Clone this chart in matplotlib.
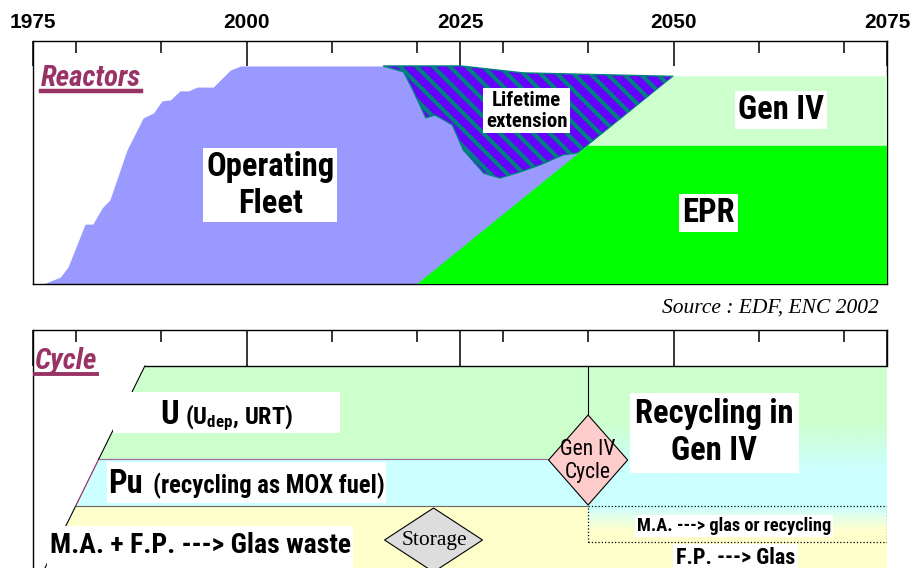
import numpy as np
import matplotlib
matplotlib.use("Agg")
import matplotlib.pyplot as plt
from matplotlib import font_manager
from matplotlib.colors import LinearSegmentedColormap
from matplotlib.lines import Line2D
from matplotlib.patches import Rectangle
from matplotlib.transforms import IdentityTransform

# ---------------- data ----------------
years_major = [1975, 2000, 2025, 2050, 2075]
years_minor = [1980, 1990, 2010, 2020, 2030, 2040, 2060, 2070]

# operating fleet (GWe)
fleet_years = [1976.2, 1978.2, 1979.1, 1981.1, 1982.0, 1983.1, 1984.0, 1986.0,
               1987.9, 1989.1, 1990.1, 1991.1, 1992.2, 1993.2, 1994.2, 1996.1,
               1998.1, 1999.3, 2016.0, 2018.4, 2019.5, 2021.0, 2022.1, 2024.1,
               2025.4, 2027.8, 2029.7, 2032.1, 2034.4, 2037.1, 2038.8]
fleet_gw = [0, 2, 4.9, 17.3, 17.3, 22, 24.3, 38.7,
            48, 49.4, 52.9, 53.2, 55.8, 55.8, 56.9, 56.9,
            61.8, 63, 63, 61.3, 56, 48, 48.8, 46,
            38.7, 32, 30.6, 32.4, 34.4, 37.3, 37.9]

# lifetime extension upper edge
ext_top_years = [2016.0, 2025.1, 2032.4, 2050.0]
ext_top_gw = [63, 63, 61, 60]

# new build ramp (EPR then Gen IV)
ramp_years = [2020, 2040, 2050]
ramp_gw = [0, 40, 60]
end_year = 2075

# fuel cycle bands (levels from bottom of picture)
band_levels = [0, 62, 109, 202]          # glas / Pu / U boundaries
band_left = [1976.4, 1980.0, 1982.7, 1988.1]
ma_level = 26
gen4_year = 2040

# ---------------- fonts ----------------
def has_bold(name):
    for f in font_manager.fontManager.ttflist:
        try:
            w = int(f.weight)
        except (TypeError, ValueError):
            w = 700 if "bold" in str(f.weight) else 400
        if f.name == name and w >= 700 and f.style == "normal":
            return True
    return False

NARROW, K = "Liberation Sans", 0.88
for cand in ["Nimbus Sans Narrow", "Liberation Sans Narrow", "Roboto Condensed",
             "PT Sans Narrow", "Pragati Narrow", "IBM Plex Sans Condensed",
             "Fira Sans Condensed", "Encode Sans Condensed"]:
    if has_bold(cand):
        NARROW, K = cand, 1.0
        break
SANS = "Liberation Sans"
SERIF = "Liberation Serif"
MAROON = "#993366"

plt.rcParams["hatch.linewidth"] = 3.0
plt.rcParams["mathtext.fontset"] = "custom"
plt.rcParams["mathtext.bf"] = NARROW + ":bold"
plt.rcParams["mathtext.rm"] = NARROW + ":bold"
plt.rcParams["mathtext.default"] = "bf"

fig = plt.figure(figsize=(9.12, 5.68), dpi=100)

W, H = 912, 568
ax1 = fig.add_axes([33 / W, 1 - 284 / H, 854 / W, (284 - 40.7) / H])
ax1.set_xlim(1975, 2075)
ax1.set_ylim(0, 70.3)

# operating fleet
ax1.fill_between(fleet_years, fleet_gw, color="#9999FF", lw=0, zorder=1)

# lifetime extension (hatched)
i0 = fleet_years.index(2016.0)
ext_x = ext_top_years + fleet_years[i0:][::-1]
ext_y = ext_top_gw + fleet_gw[i0:][::-1]
ax1.fill(ext_x, ext_y, facecolor="#6600FF", edgecolor="#008080",
         hatch="\\\\", lw=1, zorder=2)

# EPR and Gen IV
ax1.fill([ramp_years[0], ramp_years[1], end_year, end_year],
         [ramp_gw[0], ramp_gw[1], ramp_gw[1], ramp_gw[0]],
         color="#00FF00", lw=0, zorder=3)
ax1.fill([ramp_years[1], ramp_years[2], end_year, end_year],
         [ramp_gw[1], ramp_gw[2], ramp_gw[2], ramp_gw[1]],
         color="#CCFFCC", lw=0, zorder=3)

box = dict(facecolor="white", edgecolor="none", pad=2)
ax1.text(2002.8, 28.6, "Operating\nFleet", family=NARROW, fontsize=23.5 * K,
         fontweight="bold", ha="center", va="center", bbox=box, zorder=6)
ax1.text(2032.8, 50.0, "Lifetime\nextension", family=NARROW, fontsize=15 * K,
         fontweight="bold", ha="center", va="center", bbox=box, zorder=6,
         linespacing=1.1)
ax1.text(2062.6, 50.3, "Gen IV", family=NARROW, fontsize=23.5 * K,
         fontweight="bold", ha="center", va="center", bbox=box, zorder=6)
ax1.text(2054.1, 20.5, "EPR", family=NARROW, fontsize=23.5 * K,
         fontweight="bold", ha="center", va="center", bbox=box, zorder=6)
t_reac = ax1.text(1975.9, 59.5, "Reactors", family=NARROW, fontsize=21 * K,
                  fontweight="bold", style="italic", color=MAROON,
                  ha="left", va="center", zorder=6)

ax1.set_yticks([])
ax1.set_xticks(years_major)
ax1.set_xticklabels([str(y) for y in years_major], family=SANS,
                    fontsize=15, fontweight="bold")
ax1.set_xticks(years_minor, minor=True)
ax1.xaxis.set_ticks_position("top")
ax1.tick_params(axis="x", which="major", direction="in", length=18, width=1.1,
                top=True, bottom=False, labeltop=True, labelbottom=False, pad=6)
ax1.tick_params(axis="x", which="minor", direction="in", length=8.6, width=1.1,
                top=True, bottom=False)
for s in ax1.spines.values():
    s.set_linewidth(1.0)

fig.text(879 / W, 1 - 308 / H, "Source : EDF, ENC 2002", family=SERIF,
         style="italic", fontsize=15.5, ha="right", va="center")

# ---------------- fuel cycle panel ----------------
ax2 = fig.add_axes([33 / W, 0, 854 / W, 1 - 330 / H])

# bands
ax2.fill([band_left[0], band_left[1], end_year, end_year],
         [band_levels[0], band_levels[1], band_levels[1], band_levels[0]],
         color="#FFFFCC", lw=0, zorder=1)
ax2.fill([band_left[1], band_left[2], gen4_year, gen4_year],
         [band_levels[1], band_levels[2], band_levels[2], band_levels[1]],
         color="#CCFFFF", lw=0, zorder=1)
ax2.fill([band_left[2], band_left[3], gen4_year, gen4_year],
         [band_levels[2], band_levels[3], band_levels[3], band_levels[2]],
         color="#CCFFCC", lw=0, zorder=1)

# gen IV recycling zone: green -> cyan gradient
cm1 = LinearSegmentedColormap.from_list(
    "g2c", [(0, "#CCFFFF"), (0.25, "#CCFFFF"), (0.6, "#CCFFCC"), (1, "#CCFFCC")])
grad = np.linspace(0, 1, 200).reshape(-1, 1)
ax2.imshow(grad, cmap=cm1, origin="lower", aspect="auto", zorder=1,
           extent=[gen4_year, end_year, band_levels[1], band_levels[3]])
cm2 = LinearSegmentedColormap.from_list(
    "y2c", [(0, "#FFFFCC"), (0.3, "#FFFFCC"), (1, "#CCFFFF")])
ax2.imshow(grad, cmap=cm2, origin="lower", aspect="auto", zorder=1,
           extent=[gen4_year, end_year, ma_level, band_levels[1]])
ax2.add_patch(Rectangle((gen4_year, ma_level), end_year - gen4_year,
                        band_levels[1] - ma_level, fill=False, ls=":",
                        lw=0.9, ec="black", zorder=2))

# outlines
ax2.plot([band_left[0], band_left[1]], band_levels[0:2], color="black", lw=0.8, zorder=2)
ax2.plot([band_left[1], band_left[2]], band_levels[1:3], color=MAROON, lw=0.9, zorder=2)
ax2.plot([band_left[2], band_left[3]], band_levels[2:4], color="black", lw=0.8, zorder=2)
ax2.plot([band_left[3], end_year], [band_levels[3]] * 2, color="black", lw=1.0, zorder=2)
ax2.plot([band_left[2], gen4_year], [band_levels[2]] * 2, color="#996699", lw=0.8, zorder=2)
ax2.plot([band_left[1], gen4_year], [band_levels[1]] * 2, color="#666666", lw=0.8, zorder=2)

# diamonds
cx, cy, hw, hh = gen4_year, 108, 4.63, 45
ax2.plot([cx, cx], [band_levels[3], cy + hh], color="black", lw=0.8, zorder=2)
ax2.fill([cx, cx + hw, cx, cx - hw], [cy + hh, cy, cy - hh, cy],
         facecolor="#FFCCCC", edgecolor="black", lw=0.8, zorder=3)
ax2.text(cx, cy - 1, "Gen IV\nCycle", family=NARROW, fontsize=15.5 * K,
         ha="center", va="center", zorder=6, linespacing=1.15)

sx, sy, shw, shh = 2021.9, 28, 5.74, 32
ax2.fill([sx, sx + shw, sx, sx - shw], [sy + shh, sy, sy - shh, sy],
         facecolor="#DDDDDD", edgecolor="black", lw=0.8, zorder=3)
ax2.text(sx + 0.1, sy - 1, "Storage", family=SERIF, fontsize=15.5,
         ha="center", va="center", zorder=6)

# white label boxes on the left
ax2.add_patch(Rectangle((1984.4, 135), 26.6, 41, fc="white", ec="none", zorder=4))
ax2.add_patch(Rectangle((1983.7, 65), 32.6, 41, fc="white", ec="none", zorder=4))
ax2.add_patch(Rectangle((1976.6, -5), 35.9, 47, fc="white", ec="none", zorder=4))

ax2.text(1989.9, 143.7, "U", family=NARROW, fontsize=23.5 * K,
         fontweight="bold", ha="left", va="baseline", zorder=6)
ax2.text(1992.8, 143.7, "(U$_{dep}$, URT)", family=NARROW, fontsize=17.5 * K,
         fontweight="bold", ha="left", va="baseline", zorder=6)
ax2.text(1983.8, 75, "Pu", family=NARROW, fontsize=23.5 * K,
         fontweight="bold", ha="left", va="baseline", zorder=6)
ax2.text(1989.0, 75, "(recycling as MOX fuel)", family=NARROW, fontsize=17.7 * K,
         fontweight="bold", ha="left", va="baseline", zorder=6)
ax2.text(1977.0, 15, "M.A. + F.P. ---> Glas waste", family=NARROW,
         fontsize=20 * K, fontweight="bold", ha="left", va="baseline", zorder=6)

ax2.text(2054.8, 135, "Recycling in\nGen IV", family=NARROW, fontsize=23.5 * K,
         fontweight="bold", ha="center", va="center", zorder=6,
         bbox=dict(facecolor="white", edgecolor="none", pad=4))
ax2.text(2057.1, 42, "M.A. ---> glas or recycling", family=NARROW,
         fontsize=13.2 * K, fontweight="bold", ha="center", va="center", zorder=6,
         bbox=dict(facecolor="white", edgecolor="none", pad=1.5))
ax2.text(2057.3, 4, "F.P. ---> Glas", family=NARROW, fontsize=15.9 * K,
         fontweight="bold", ha="center", va="baseline", zorder=6,
         bbox=dict(facecolor="white", edgecolor="none", pad=2))

t_cyc = ax2.text(1975.2, 207, "Cycle", family=NARROW, fontsize=21 * K,
                 fontweight="bold", style="italic", color=MAROON,
                 ha="left", va="center", zorder=6)

ax2.set_xlim(1975, 2075)
ax2.set_ylim(0, 238)
ax2.set_yticks([])
ax2.set_xticks(years_major)
ax2.set_xticks(years_minor, minor=True)
ax2.xaxis.set_ticks_position("top")
ax2.tick_params(axis="x", which="major", direction="in", length=26, width=1.1,
                top=True, bottom=False, labeltop=False, labelbottom=False)
ax2.tick_params(axis="x", which="minor", direction="in", length=8.6, width=1.1,
                top=True, bottom=False)
ax2.spines["bottom"].set_visible(False)
ax2.spines["right"].set_bounds(band_levels[3], 238)
for s in ax2.spines.values():
    s.set_linewidth(1.0)

# underline the panel titles
fig.canvas.draw()
r = fig.canvas.get_renderer()
for t, lw in [(t_reac, 3.2), (t_cyc, 2.8)]:
    bb = t.get_window_extent(r)
    fig.add_artist(Line2D([bb.x0, bb.x1], [bb.y0 + 1.5, bb.y0 + 1.5],
                          color=MAROON, lw=lw, transform=IdentityTransform()))

fig.savefig("out.png", dpi=100)
